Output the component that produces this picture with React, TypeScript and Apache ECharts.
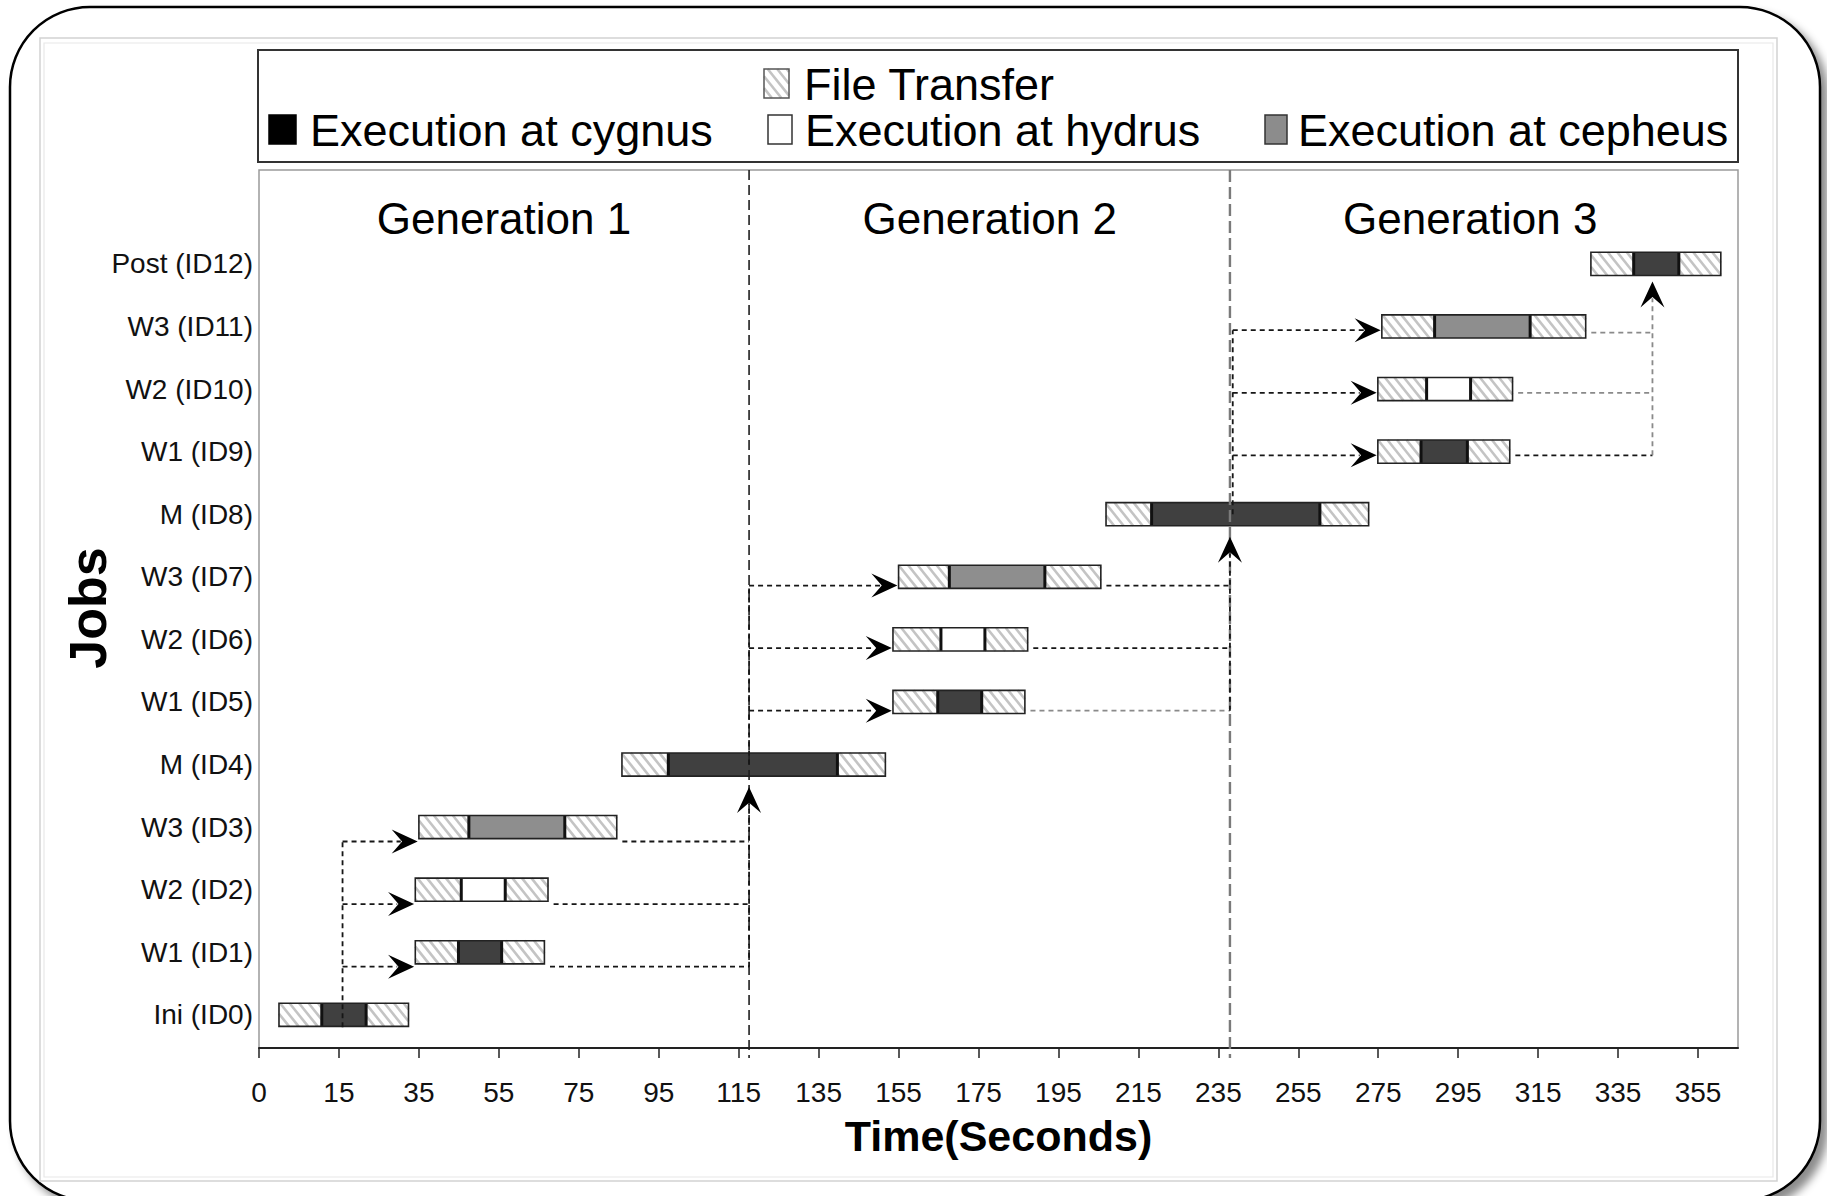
import React, { useEffect, useRef } from "react";
import * as echarts from "echarts";

const FONT = "'Liberation Sans', Arial, Helvetica, sans-serif";

// ---------- data ----------
const jobs = [
  "Ini (ID0)", "W1 (ID1)", "W2 (ID2)", "W3 (ID3)", "M (ID4)",
  "W1 (ID5)", "W2 (ID6)", "W3 (ID7)", "M (ID8)",
  "W1 (ID9)", "W2 (ID10)", "W3 (ID11)", "Post (ID12)",
];
// seconds
const transferInStart = [0, 34.1, 34.1, 35.0, 85.8, 153.6, 153.6, 155.0, 206.9, 274.9, 274.9, 275.9, 328.2];
const execStart = [10.7, 44.9, 45.6, 47.5, 97.4, 164.8, 165.6, 167.7, 218.3, 285.7, 287.1, 289.1, 338.9];
const execEnd = [21.8, 55.7, 56.6, 71.5, 139.7, 175.8, 176.6, 191.6, 260.4, 297.3, 298.1, 313.0, 350.2];
const transferOutEnd = [32.4, 66.4, 67.3, 84.5, 151.7, 186.6, 187.3, 205.6, 272.6, 307.9, 308.6, 326.9, 360.7];
// 0 = cygnus, 1 = hydrus, 2 = cepheus
const execHost = [0, 0, 1, 2, 0, 0, 1, 2, 0, 0, 1, 2, 0];

const legendLabels = ["File Transfer", "Execution at cygnus", "Execution at hydrus", "Execution at cepheus"];

const generationBoundaries = [117.6, 237.9];
const generationNames = ["Generation 1", "Generation 2", "Generation 3"];
const generationLabelX = [56.3, 177.8, 298.0];

const xTickValues = [-5, 15, 35, 55, 75, 95, 115, 135, 155, 175, 195, 215, 235, 255, 275, 295, 315, 335, 355];
const xTickLabels = ["0", "15", "35", "55", "75", "95", "115", "135", "155", "175", "195", "215", "235", "255", "275", "295", "315", "335", "355"];

const xAxisTitle = "Time(Seconds)";
const yAxisTitle = "Jobs";

// dependency links: [fromTime, fromRow, toTime, toRow, arrowHead, gray]
const links = [
  [15.9, -0.2, 15.9, 2.77, 0, 0],
  [15.9, 0.77, 33.8, 0.77, 1, 0],
  [15.9, 1.77, 33.8, 1.77, 1, 0],
  [15.9, 2.77, 34.7, 2.77, 1, 0],
  [67.8, 0.77, 117.6, 0.77, 0, 0],
  [68.7, 1.77, 117.6, 1.77, 0, 0],
  [85.9, 2.77, 117.6, 2.77, 0, 0],
  [117.6, 0.77, 117.6, 3.64, 1, 0],
  [117.6, 4.0, 117.6, 6.86, 0, 0],
  [117.6, 4.86, 153.3, 4.86, 1, 0],
  [117.6, 5.86, 153.3, 5.86, 1, 0],
  [117.6, 6.86, 154.7, 6.86, 1, 0],
  [188.0, 4.86, 237.9, 4.86, 0, 1],
  [188.7, 5.86, 237.9, 5.86, 0, 0],
  [207.0, 6.86, 237.9, 6.86, 0, 0],
  [237.9, 4.86, 237.9, 7.64, 1, 0],
  [238.6, 8.0, 238.6, 10.94, 0, 0],
  [238.6, 8.94, 274.6, 8.94, 1, 0],
  [238.6, 9.94, 274.6, 9.94, 1, 0],
  [238.6, 10.94, 275.6, 10.94, 1, 0],
  [309.3, 8.94, 343.6, 8.94, 0, 0],
  [310.0, 9.94, 343.6, 9.94, 0, 1],
  [328.3, 10.9, 343.6, 10.9, 0, 1],
  [343.6, 8.94, 343.6, 11.72, 1, 1],
];

// ---------- styles ----------
const execColors = ["#404040", "#ffffff", "#8e8e8e"];
const legendExecColors = ["#000000", "#ffffff", "#8c8c8c"];
const HATCH_SPACING = 9.5;
const HATCH_K = 0.8;

function hatchLines(x0: number, x1: number, y0: number, y1: number) {
  const out: any[] = [];
  if (x1 - x0 < 1) return out;
  const k = HATCH_K;
  const s = HATCH_SPACING;
  const cMin = x0 - y1 * k;
  const cMax = x1 - y0 * k;
  for (let c = Math.ceil(cMin / s) * s; c <= cMax; c += s) {
    let sx = c + y0 * k, sy = y0;
    if (sx < x0) { sx = x0; sy = (x0 - c) / k; }
    let ex = c + y1 * k, ey = y1;
    if (ex > x1) { ex = x1; ey = (x1 - c) / k; }
    if (ey - sy > 0.5 && sx <= x1 && ex >= x0) {
      out.push({
        type: "line",
        shape: { x1: sx, y1: sy, x2: ex, y2: ey },
        style: { stroke: "#c4c4c4", lineWidth: 2.6 },
        silent: true,
      });
    }
  }
  return out;
}

function renderJob(params: any, api: any) {
  const row = api.value(0);
  const a = api.coord([api.value(1), row]);
  const b = api.coord([api.value(2), row]);
  const c = api.coord([api.value(3), row]);
  const d = api.coord([api.value(4), row]);
  const host = api.value(5);
  const h = api.size([0, 0.37])[1];
  const top = a[1] - h / 2;
  const bottom = a[1] + h / 2;
  const children: any[] = [];
  children.push({ type: "rect", shape: { x: a[0], y: top, width: d[0] - a[0], height: h }, style: { fill: "#fff" } });
  children.push(...hatchLines(a[0], b[0], top, bottom));
  children.push(...hatchLines(c[0], d[0], top, bottom));
  children.push({ type: "rect", shape: { x: b[0], y: top, width: c[0] - b[0], height: h }, style: { fill: execColors[host] } });
  children.push({ type: "line", shape: { x1: b[0], y1: top, x2: b[0], y2: bottom }, style: { stroke: "#111", lineWidth: 3 } });
  children.push({ type: "line", shape: { x1: c[0], y1: top, x2: c[0], y2: bottom }, style: { stroke: "#111", lineWidth: 3 } });
  children.push({ type: "rect", shape: { x: a[0], y: top, width: d[0] - a[0], height: h }, style: { fill: "none", stroke: "#222", lineWidth: 1.6 } });
  return { type: "group", children };
}

function renderLink(params: any, api: any) {
  const p1 = api.coord([api.value(0), api.value(1)]);
  const p2 = api.coord([api.value(2), api.value(3)]);
  const arrow = api.value(4);
  const gray = api.value(5);
  const color = gray ? "#8a8a8a" : "#161616";
  const dx = p2[0] - p1[0];
  const dy = p2[1] - p1[1];
  const len = Math.hypot(dx, dy) || 1;
  const ux = dx / len, uy = dy / len;
  const L = 26, W = 12;
  const children: any[] = [];
  const end = arrow ? [p2[0] - ux * L * 0.65, p2[1] - uy * L * 0.65] : p2;
  children.push({
    type: "line",
    shape: { x1: p1[0], y1: p1[1], x2: end[0], y2: end[1] },
    style: { stroke: color, lineWidth: 1.8, lineDash: [5, 4] },
  });
  if (arrow) {
    const px = -uy, py = ux;
    const bx = p2[0] - ux * L, by = p2[1] - uy * L;
    const nx = p2[0] - ux * L * 0.6, ny = p2[1] - uy * L * 0.6;
    children.push({
      type: "polygon",
      shape: { points: [[p2[0], p2[1]], [bx + px * W, by + py * W], [nx, ny], [bx - px * W, by - py * W]] },
      style: { fill: "#000" },
    });
  }
  return { type: "group", children };
}

function renderGenLine(params: any, api: any) {
  const cs = params.coordSys;
  const p = api.coord([api.value(0), 0]);
  const i = params.dataIndex;
  return {
    type: "line",
    shape: { x1: p[0], y1: cs.y, x2: p[0], y2: cs.y + cs.height + 10 },
    style: i === 0
      ? { stroke: "#202020", lineWidth: 1.6, lineDash: [10, 5] }
      : { stroke: "#7a7a7a", lineWidth: 2.4, lineDash: [12, 5] },
  };
}

function renderGenLabel(params: any, api: any) {
  const cs = params.coordSys;
  const p = api.coord([api.value(0), 0]);
  return {
    type: "text",
    x: p[0],
    y: cs.y + 48,
    style: {
      text: generationNames[params.dataIndex],
      font: `44px ${FONT}`,
      fill: "#000",
      align: "center",
      verticalAlign: "middle",
      textAlign: "center",
      textVerticalAlign: "middle",
    },
  };
}

function legendText(text: string, x: number, y: number) {
  return {
    type: "text",
    x,
    y,
    z: 10,
    style: {
      text,
      font: `45px ${FONT}`,
      fill: "#000",
      align: "left",
      verticalAlign: "middle",
      textAlign: "left",
      textVerticalAlign: "middle",
    },
  };
}

function legendBox(x: number, y: number, w: number, h: number, fill: string, stroke: string) {
  return {
    type: "rect",
    z: 10,
    shape: { x, y, width: w, height: h },
    style: { fill, stroke, lineWidth: 1.5 },
  };
}

function buildOption() {
  const jobData = jobs.map((_, i) => [i, transferInStart[i], execStart[i], execEnd[i], transferOutEnd[i], execHost[i]]);
  const graphicElements: any[] = [
    {
      type: "rect",
      z: -10,
      shape: { x: 10, y: 7, width: 1810, height: 1194, r: 80 },
      style: {
        fill: "#fff",
        stroke: "#000",
        lineWidth: 2.5,
        shadowBlur: 8,
        shadowColor: "rgba(0,0,0,0.45)",
        shadowOffsetX: 7,
        shadowOffsetY: 7,
      },
      silent: true,
    },
    {
      type: "rect",
      z: -9,
      shape: { x: 40, y: 38, width: 1737, height: 1143 },
      style: { fill: "none", stroke: "#d2d2d2", lineWidth: 1.5 },
      silent: true,
    },
    {
      type: "rect",
      z: -9,
      shape: { x: 44, y: 43, width: 1729, height: 1134 },
      style: { fill: "none", stroke: "#e8e8e8", lineWidth: 1.2 },
      silent: true,
    },
    {
      type: "rect",
      z: 10,
      shape: { x: 258, y: 50, width: 1480, height: 112 },
      style: { fill: "#fff", stroke: "#333", lineWidth: 2 },
    },
    {
      type: "group",
      z: 11,
      children: [
        { type: "rect", z: 11, shape: { x: 764, y: 69, width: 25, height: 29 }, style: { fill: "#fff" } },
        ...hatchLines(764, 789, 69, 98).map((l) => ({ ...l, z: 11 })),
        { type: "rect", z: 11, shape: { x: 764, y: 69, width: 25, height: 29 }, style: { fill: "none", stroke: "#555", lineWidth: 1.5 } },
      ],
    },
    legendText(legendLabels[0], 804, 84),
    legendBox(269, 115, 27, 29, legendExecColors[0], "#000"),
    legendText(legendLabels[1], 310, 130),
    legendBox(768, 115, 24, 29, legendExecColors[1], "#333"),
    legendText(legendLabels[2], 805, 130),
    legendBox(1265, 115, 22, 29, legendExecColors[2], "#333"),
    legendText(legendLabels[3], 1298, 130),
    {
      type: "text",
      x: 88,
      y: 608,
      rotation: Math.PI / 2,
      z: 10,
      style: {
        text: yAxisTitle,
        font: `bold 52px ${FONT}`,
        fill: "#000",
        align: "center",
        verticalAlign: "middle",
        textAlign: "center",
        textVerticalAlign: "middle",
      },
    },
  ];

  return {
    animation: false,
    backgroundColor: "#fff",
    graphic: { elements: graphicElements },
    grid: {
      left: 259,
      top: 170,
      width: 1479,
      height: 878,
      show: true,
      borderColor: "#9a9a9a",
      borderWidth: 1.5,
      backgroundColor: "transparent",
    },
    xAxis: {
      type: "value",
      min: -5,
      max: 365,
      name: xAxisTitle,
      nameLocation: "middle",
      nameGap: 66,
      nameTextStyle: { fontSize: 43, fontWeight: "bold", fontFamily: FONT, color: "#000" },
      axisLine: { show: true, onZero: false, lineStyle: { color: "#222", width: 2 } },
      axisTick: { show: true, customValues: xTickValues, length: 10, lineStyle: { color: "#222", width: 1.5 } },
      axisLabel: {
        customValues: xTickValues,
        formatter: (v: number) => {
          const idx = xTickValues.indexOf(Math.round(v));
          return idx >= 0 ? xTickLabels[idx] : "";
        },
        margin: 30,
        fontSize: 28,
        fontFamily: FONT,
        color: "#111",
      },
      splitLine: { show: false },
    },
    yAxis: {
      type: "value",
      min: -0.53,
      max: 13.5,
      axisLine: { show: false, onZero: false },
      axisTick: { show: false },
      axisLabel: {
        customValues: jobs.map((_, i) => i),
        formatter: (v: number) => jobs[Math.round(v)] ?? "",
        margin: 6,
        fontSize: 28,
        fontFamily: FONT,
        color: "#111",
      },
      splitLine: { show: false },
    },
    series: [
      {
        type: "custom",
        name: "jobs",
        renderItem: renderJob,
        data: jobData,
        encode: { x: [1, 2, 3, 4], y: 0 },
        z: 3,
        clip: false,
      },
      {
        type: "custom",
        name: "generation boundaries",
        renderItem: renderGenLine,
        data: generationBoundaries.map((t, i) => [t, i]),
        encode: { x: 0 },
        z: 4,
        clip: false,
      },
      {
        type: "custom",
        name: "links",
        renderItem: renderLink,
        data: links,
        encode: { x: [0, 2], y: [1, 3] },
        z: 5,
        clip: false,
      },
      {
        type: "custom",
        name: "generation labels",
        renderItem: renderGenLabel,
        data: generationLabelX.map((t, i) => [t, i]),
        encode: { x: 0 },
        z: 6,
        clip: false,
      },
    ],
  };
}

export default function App() {
  const ref = useRef<HTMLDivElement>(null);
  useEffect(() => {
    if (!ref.current) return;
    const chart = echarts.init(ref.current, null, { renderer: "svg" });
    chart.setOption(buildOption() as any);
    return () => chart.dispose();
  }, []);
  return (
    <div
      ref={ref}
      style={{ position: "fixed", left: 0, top: 0, width: 1827, height: 1196, background: "#fff" }}
    />
  );
}
